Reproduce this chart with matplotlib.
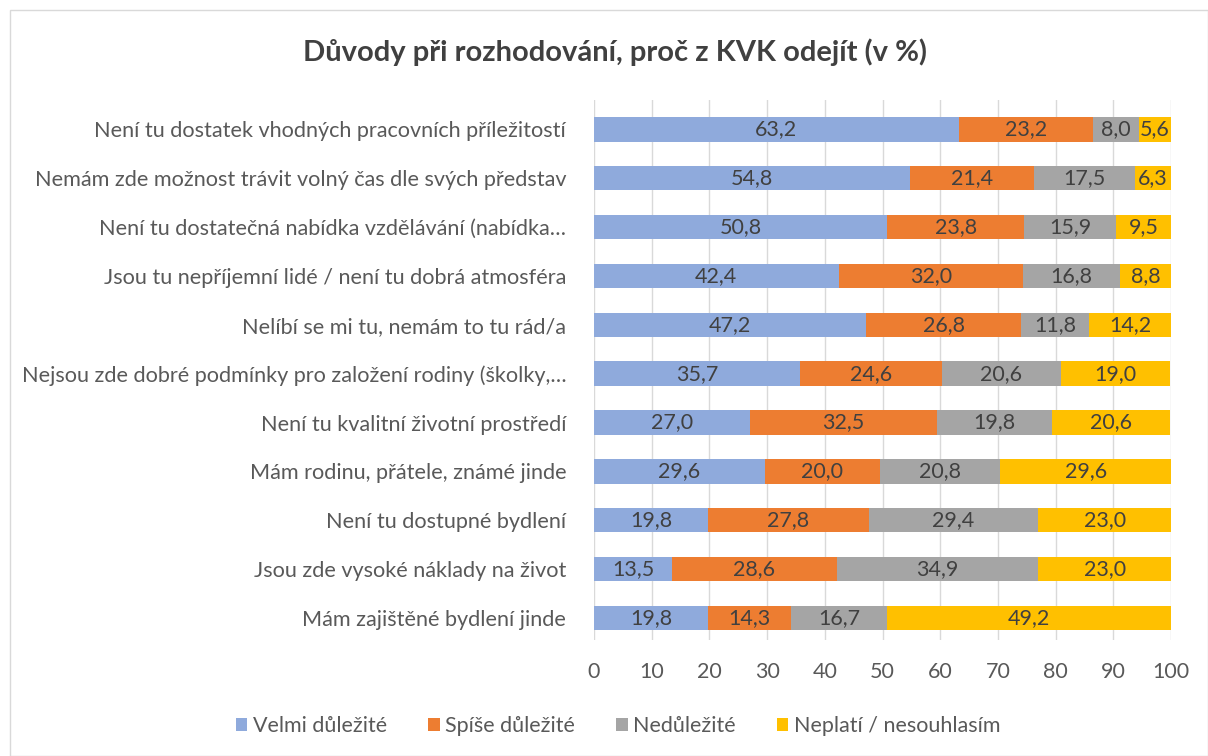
import matplotlib
matplotlib.use("Agg")
import matplotlib.pyplot as plt
from matplotlib.patches import Rectangle
import numpy as np

categories = [
    "Není tu dostatek vhodných pracovních příležitostí",
    "Nemám zde možnost trávit volný čas dle svých představ",
    "Není tu dostatečná nabídka vzdělávání (nabídka…",
    "Jsou tu nepříjemní lidé / není tu dobrá atmosféra",
    "Nelíbí se mi tu, nemám to tu rád/a",
    "Nejsou zde dobré podmínky pro založení rodiny (školky,…",
    "Není tu kvalitní životní prostředí",
    "Mám rodinu, přátele, známé jinde",
    "Není tu dostupné bydlení",
    "Jsou zde vysoké náklady na život",
    "Mám zajištěné bydlení jinde",
]
velmi = [63.2, 54.8, 50.8, 42.4, 47.2, 35.7, 27.0, 29.6, 19.8, 13.5, 19.8]
spise = [23.2, 21.4, 23.8, 32.0, 26.8, 24.6, 32.5, 20.0, 27.8, 28.6, 14.3]
nedulezite = [8.0, 17.5, 15.9, 16.8, 11.8, 20.6, 19.8, 20.8, 29.4, 34.9, 16.7]
neplati = [5.6, 6.3, 9.5, 8.8, 14.2, 19.0, 20.6, 29.6, 23.0, 23.0, 49.2]
series_names = ["Velmi důležité", "Spíše důležité", "Nedůležité", "Neplatí / nesouhlasím"]
colors = ["#8FAADC", "#ED7D31", "#A5A5A5", "#FFC000"]
title = "Důvody při rozhodování, proč z KVK odejít (v %)"
xticks = [0, 10, 20, 30, 40, 50, 60, 70, 80, 90, 100]

plt.rcParams['font.family'] = ['Lato', 'DejaVu Sans']

fig = plt.figure(figsize=(12.08, 7.56), dpi=100)
fig.patches.append(Rectangle((10/1208, 0), 1 - 10/1208, 1 - 10/756, transform=fig.transFigure,
                             fill=False, edgecolor="#D9D9D9", linewidth=1))
ax = fig.add_axes([594/1208, 1 - 640/756, (1171 - 594)/1208, 540/756])

n = len(categories)
y = np.arange(n)
data = [velmi, spise, nedulezite, neplati]
left = np.zeros(n)
for vals, name, col in zip(data, series_names, colors):
    vals = np.array(vals)
    ax.barh(y, vals, left=left, height=0.5, color=col, label=name, zorder=3)
    for yi, l, v in zip(y, left, vals):
        ax.text(l + v / 2, yi, f"{v:.1f}".replace(".", ","), ha="center", va="center",
                fontsize=15.5, color="#404040", zorder=4)
    left = left + vals

ax.set_ylim(n - 0.55, -0.6)
ax.set_xlim(0, 100)
ax.set_xticks(xticks)
ax.set_xticklabels([str(t) for t in xticks], fontsize=15.5, color="#595959")
ax.set_yticks(y)
ax.set_yticklabels(categories, fontsize=15.6, color="#595959")
ax.tick_params(axis="both", length=0)
ax.tick_params(axis="y", pad=20)
ax.tick_params(axis="x", pad=16)
ax.grid(axis="x", color="#D9D9D9", linewidth=1, zorder=0)
for s in ax.spines.values():
    s.set_visible(False)

fig.text(615/1208, 1 - 52/756, title, ha="center", va="center", fontsize=21,
         fontweight="bold", color="#404040")

handles, labels = ax.get_legend_handles_labels()
fig.legend(handles, labels, loc="center", bbox_to_anchor=(618/1208, 1 - 726/756), ncol=4,
           frameon=False, fontsize=15.5, handlelength=0.55, handleheight=0.55,
           handletextpad=0.25, columnspacing=1.9, labelcolor="#595959")

fig.savefig("out.png", dpi=100)
